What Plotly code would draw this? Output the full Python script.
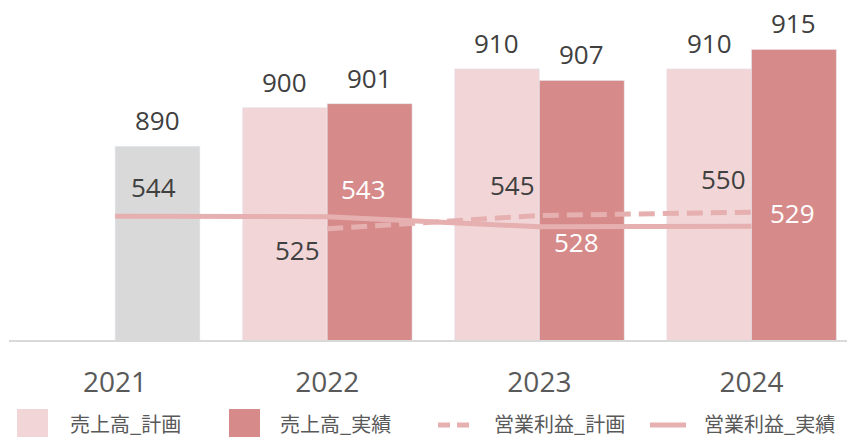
import plotly.graph_objects as go

# ---- data ----
years = ["2021", "2022", "2023", "2024"]
sales_plan = [None, 900, 910, 910]
sales_actual = [890, 901, 907, 915]
op_plan = [None, 525, 545, 550]
op_actual = [544, 543, 528, 529]
legend_names = ["売上高_計画", "売上高_実績", "営業利益_計画", "営業利益_実績"]

# ---- style ----
C_PLAN = "#f2d6d7"
C_ACT = "#d68a89"
C_GRAY = "#d9d9d9"
C_LINE = "#e6b0b0"
TXT = "#404040"
NUM_FONT = "Open Sans"
JP_FONT = "Noto Sans CJK JP"

W, H = 847, 437
ML, MR, MT, MB = 9, 0, 30, 97
PW, PH = W - ML - MR, H - MT - MB

idx = list(range(len(years)))
BW = 0.4
x_plan = [i - BW / 2 for i in idx]
x_act = [i + BW / 2 for i in idx]
act_colors = [C_GRAY] + [C_ACT] * (len(years) - 1)

fig = go.Figure()
fig.add_trace(go.Bar(x=x_plan, y=sales_plan, width=BW, marker_color=C_PLAN,
                     name=legend_names[0], showlegend=False, hoverinfo="skip"))
fig.add_trace(go.Bar(x=x_act, y=sales_actual, width=BW, marker_color=act_colors,
                     name=legend_names[1], showlegend=False, hoverinfo="skip"))
fig.add_trace(go.Scatter(x=idx, y=op_plan, yaxis="y2", mode="lines",
                         line=dict(color=C_LINE, width=5, dash="16px,8px"),
                         name=legend_names[2], showlegend=False, hoverinfo="skip"))
fig.add_trace(go.Scatter(x=idx, y=op_actual, yaxis="y2", mode="lines",
                         line=dict(color=C_LINE, width=5),
                         name=legend_names[3], showlegend=False, hoverinfo="skip"))

ann = []
NUM_SIZE = 26
# bar value labels
for xs, vals in ((x_plan, sales_plan), (x_act, sales_actual)):
    for x, v in zip(xs, vals):
        if v is None:
            continue
        ann.append(dict(x=x, y=v, xref="x", yref="y", text=str(v), showarrow=False,
                        yanchor="middle", yshift=26,
                        font=dict(family=NUM_FONT, size=NUM_SIZE, color=TXT)))
# line labels (pixel offsets from the point)
plan_off = [None, (-30, -21), (-27, 30), (-28, 33)]
act_off = [(38, 29), (36, 28), (37, -15), (41, 13)]
act_txt_col = [TXT, "white", "white", "white"]
for i, v in enumerate(op_plan):
    if v is None:
        continue
    dx, dy = plan_off[i]
    ann.append(dict(x=i, y=v, xref="x", yref="y2", text=str(v), showarrow=False,
                    xshift=dx, yshift=dy, yanchor="middle",
                    font=dict(family=NUM_FONT, size=NUM_SIZE, color=TXT)))
for i, v in enumerate(op_actual):
    dx, dy = act_off[i]
    ann.append(dict(x=i, y=v, xref="x", yref="y2", text=str(v), showarrow=False,
                    xshift=dx, yshift=dy, yanchor="middle",
                    font=dict(family=NUM_FONT, size=NUM_SIZE, color=act_txt_col[i])))

# ---- manual legend (pixel coords -> paper) ----
def px(xp):
    return (xp - ML) / PW

def py(yp):
    return (MT + PH - yp) / PH

shapes = []
shapes.append(dict(type="rect", xref="paper", yref="paper", x0=px(17), x1=px(48),
                   y0=py(437), y1=py(409), fillcolor=C_PLAN, line_width=0))
shapes.append(dict(type="rect", xref="paper", yref="paper", x0=px(229), x1=px(260),
                   y0=py(437), y1=py(409), fillcolor=C_ACT, line_width=0))
shapes.append(dict(type="line", xref="paper", yref="paper", x0=px(438), x1=px(473),
                   y0=py(425), y1=py(425), line=dict(color=C_LINE, width=5, dash="12px,7px")))
shapes.append(dict(type="line", xref="paper", yref="paper", x0=px(650), x1=px(686),
                   y0=py(425), y1=py(425), line=dict(color=C_LINE, width=5)))
leg_x = [68, 278, 492, 702]
for name, lx in zip(legend_names, leg_x):
    ann.append(dict(x=px(lx), y=py(423), xref="paper", yref="paper", text=name,
                    showarrow=False, xanchor="left", yanchor="middle",
                    font=dict(family=JP_FONT, size=20, color="#595959")))

fig.update_layout(
    width=W, height=H,
    margin=dict(l=ML, r=MR, t=MT, b=MB),
    paper_bgcolor="white", plot_bgcolor="white",
    barmode="overlay",
    showlegend=False,
    hovermode=False,
    xaxis=dict(range=[-0.5, 3.45], tickvals=idx, ticktext=years, showline=True,
               linecolor="#d9d9d9", linewidth=2, showgrid=False, zeroline=False,
               ticks="", ticklabelstandoff=16,
               tickfont=dict(family=NUM_FONT, size=28, color="#595959")),
    yaxis=dict(range=[840, 920], visible=False, showgrid=False, zeroline=False),
    yaxis2=dict(range=[359, 822], overlaying="y", visible=False, showgrid=False,
                zeroline=False),
    annotations=ann,
    shapes=shapes,
)

fig.write_html("out.html", config={"displayModeBar": False},
               post_script="document.body.style.margin='0';document.body.style.overflow='hidden';")
